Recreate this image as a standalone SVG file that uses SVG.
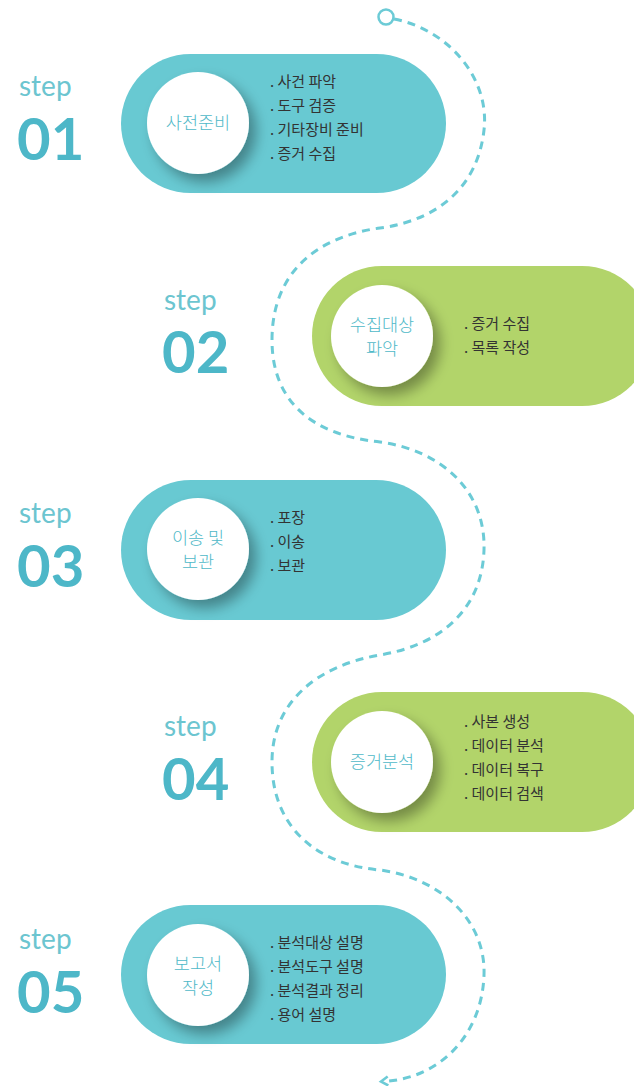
<svg xmlns="http://www.w3.org/2000/svg" width="634" height="1086" viewBox="0 0 634 1086">
<style>
.teal{fill:#68c9d2}
.green{fill:#b2d46a}
.disc{fill:#ffffff;filter:url(#sh)}
.step{font-family:Lato,"Noto Sans",sans-serif;font-size:28px;fill:#6cc5d0}
.num{font-family:Lato,"Noto Sans",sans-serif;font-size:58px;font-weight:700;fill:#4db7c8}
.ct{font-family:"Noto Sans CJK KR","Noto Sans",sans-serif;font-size:17.5px;font-weight:300;fill:#4fb9c8;text-anchor:middle}
.bl{font-family:"Noto Sans CJK KR","Noto Sans",sans-serif;font-size:15px;fill:#333333}
.dash{fill:none;stroke:#6ccbd6;stroke-width:3;stroke-dasharray:8 6}
</style>
<defs>
<filter id="sh" x="-40%" y="-40%" width="190%" height="190%">
<feGaussianBlur in="SourceAlpha" stdDeviation="7"/>
<feOffset dx="7" dy="8" result="b"/>
<feComponentTransfer><feFuncA type="linear" slope="0.35"/></feComponentTransfer>
<feMerge><feMergeNode/><feMergeNode in="SourceGraphic"/></feMerge>
</filter>
<marker id="arr" markerWidth="12" markerHeight="14" refX="1" refY="6" orient="auto" markerUnits="userSpaceOnUse">
<path d="M1 1.5 L8 6 L1 10.5" fill="none" stroke="#6ccbd6" stroke-width="2.6"/>
</marker>
</defs>

<g id="connectors">
<path class="dash" d="M394 19 C450 30 490 80 484 130 C478 185 440 220 380 228 C320 236 272 270 272 340 C272 400 310 435 380 442 C440 450 486 490 484 550 C482 610 440 645 380 655 C320 665 272 700 272 762 C272 830 320 865 380 870 C440 878 486 920 484 975 C482 1035 440 1077 388 1081" marker-end="url(#arr)"/>
<circle cx="386" cy="17" r="7.5" fill="#ffffff" stroke="#6ccbd6" stroke-width="2.5"/>
</g>

<g id="step1">
<text class="step" x="19" y="96">step</text>
<text class="num" x="17" y="160">01</text>
<rect class="teal" x="121" y="54" width="325" height="139" rx="69.5"/>
<circle class="disc" cx="198" cy="123" r="51"/>
<text class="ct" x="198" y="129">사전준비</text>
<text class="bl" x="270" y="87">. 사건 파악</text>
<text class="bl" x="270" y="111">. 도구 검증</text>
<text class="bl" x="270" y="135">. 기타장비 준비</text>
<text class="bl" x="270" y="159">. 증거 수집</text>
</g>

<g id="step2">
<text class="step" x="164" y="310">step</text>
<text class="num" x="162" y="373">02</text>
<rect class="green" x="312" y="266" width="340" height="140" rx="70"/>
<circle class="disc" cx="382" cy="336" r="51"/>
<text class="ct" x="382" y="331">수집대상</text>
<text class="ct" x="382" y="355">파악</text>
<text class="bl" x="464" y="329">. 증거 수집</text>
<text class="bl" x="464" y="353">. 목록 작성</text>
</g>

<g id="step3">
<text class="step" x="19" y="523">step</text>
<text class="num" x="17" y="587">03</text>
<rect class="teal" x="121" y="480" width="325" height="140" rx="70"/>
<circle class="disc" cx="198" cy="549" r="51"/>
<text class="ct" x="198" y="544">이송 및</text>
<text class="ct" x="198" y="568">보관</text>
<text class="bl" x="270" y="523">. 포장</text>
<text class="bl" x="270" y="547">. 이송</text>
<text class="bl" x="270" y="571">. 보관</text>
</g>

<g id="step4">
<text class="step" x="164" y="736">step</text>
<text class="num" x="162" y="800">04</text>
<rect class="green" x="312" y="692" width="340" height="140" rx="70"/>
<circle class="disc" cx="382" cy="762" r="51"/>
<text class="ct" x="382" y="768">증거분석</text>
<text class="bl" x="464" y="727">. 사본 생성</text>
<text class="bl" x="464" y="751">. 데이터 분석</text>
<text class="bl" x="464" y="775">. 데이터 복구</text>
<text class="bl" x="464" y="799">. 데이터 검색</text>
</g>

<g id="step5">
<text class="step" x="19" y="949">step</text>
<text class="num" x="17" y="1013">05</text>
<rect class="teal" x="121" y="905" width="325" height="139" rx="69.5"/>
<circle class="disc" cx="198" cy="975" r="51"/>
<text class="ct" x="198" y="970">보고서</text>
<text class="ct" x="198" y="994">작성</text>
<text class="bl" x="270" y="948">. 분석대상 설명</text>
<text class="bl" x="270" y="972">. 분석도구 설명</text>
<text class="bl" x="270" y="996">. 분석결과 정리</text>
<text class="bl" x="270" y="1020">. 용어 설명</text>
</g>
</svg>
